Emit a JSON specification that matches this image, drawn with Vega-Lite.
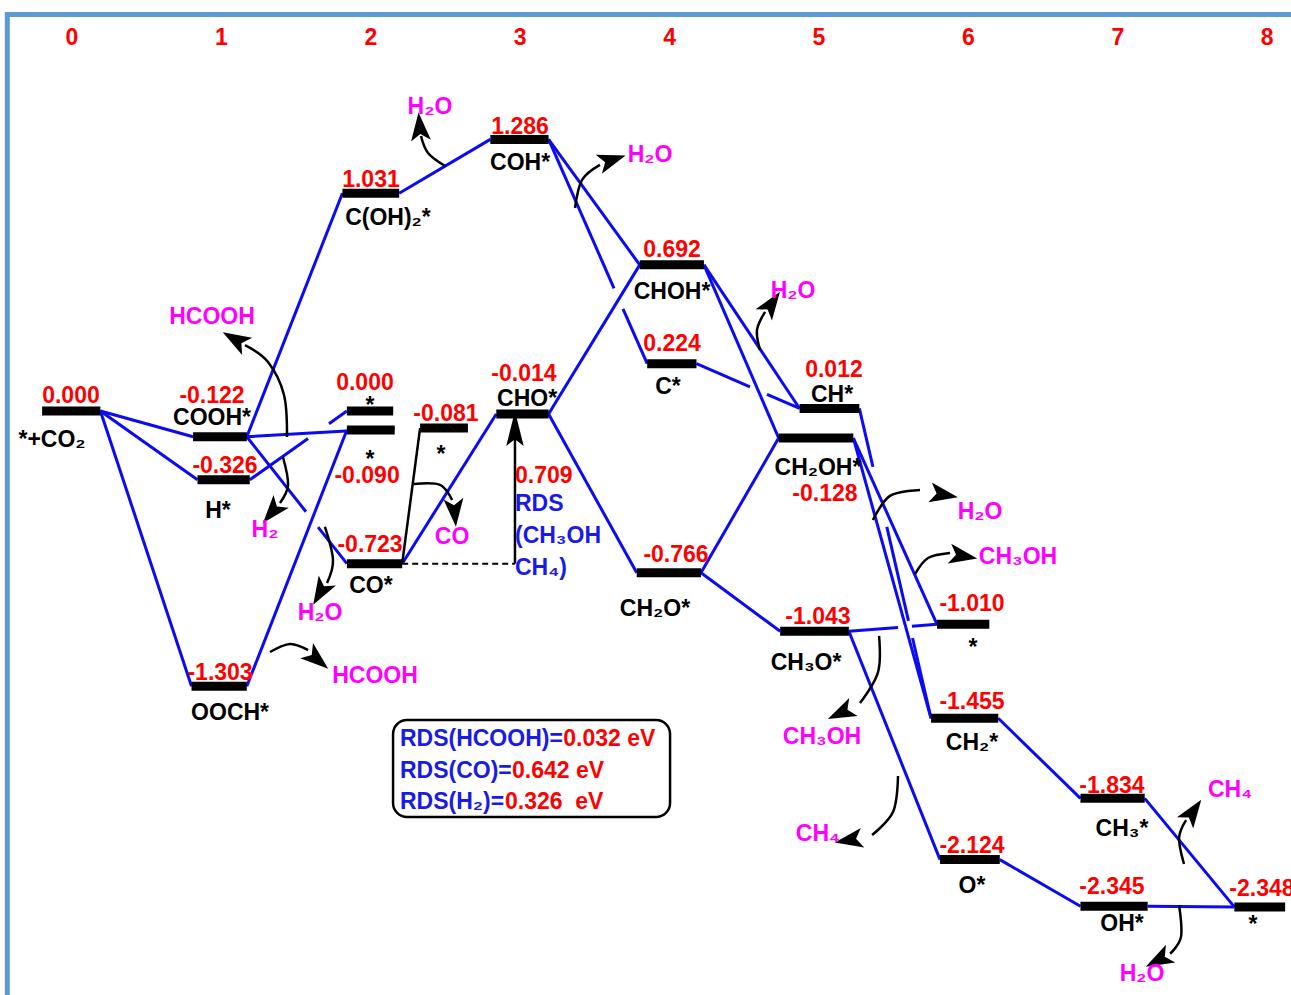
{
"$schema": "https://vega.github.io/schema/vega-lite/v6.json",
"width": 1291, "height": 995, "autosize": "none", "padding": 0,
"background": "white",
"config": {"view": {"stroke": null}},
"datasets": {
"frame": [{"x": -0.433, "x2": 9, "y": 1.877, "y2": -3}],
"box": [{"x": 2.149, "x2": 4.003, "y": -1.463, "y2": -1.922}],
"bars": [
{"name":"*+CO2","x":-0.20,"x2":0.19,"y":0.000},
{"name":"COOH*","x":0.81,"x2":1.17,"y":-0.122},
{"name":"H*","x":0.84,"x2":1.19,"y":-0.326},
{"name":"OOCH*","x":0.80,"x2":1.17,"y":-1.303},
{"name":"C(OH)2*","x":1.81,"x2":2.19,"y":1.031},
{"name":"* (2a)","x":1.84,"x2":2.15,"y":0.000},
{"name":"* (2b)","x":1.84,"x2":2.16,"y":-0.090},
{"name":"CO*","x":1.84,"x2":2.21,"y":-0.723},
{"name":"* (2.5)","x":2.33,"x2":2.65,"y":-0.081},
{"name":"COH*","x":2.80,"x2":3.19,"y":1.286},
{"name":"CHO*","x":2.84,"x2":3.19,"y":-0.014},
{"name":"CHOH*","x":3.80,"x2":4.23,"y":0.692},
{"name":"C*","x":3.85,"x2":4.18,"y":0.224},
{"name":"CH2O*","x":3.78,"x2":4.21,"y":-0.766},
{"name":"CH*","x":4.87,"x2":5.27,"y":0.012},
{"name":"CH2OH*","x":4.73,"x2":5.23,"y":-0.128},
{"name":"CH3O*","x":4.74,"x2":5.20,"y":-1.043},
{"name":"* (6)","x":5.79,"x2":6.14,"y":-1.010},
{"name":"CH2*","x":5.75,"x2":6.20,"y":-1.455},
{"name":"O*","x":5.81,"x2":6.21,"y":-2.124},
{"name":"CH3*","x":6.75,"x2":7.18,"y":-1.834},
{"name":"OH*","x":6.75,"x2":7.20,"y":-2.345},
{"name":"* (8)","x":7.78,"x2":8.12,"y":-2.348}
],
"blue": [
{"x":0.19,"y":0,"x2":0.81,"y2":-0.122},
{"x":0.19,"y":0,"x2":0.84,"y2":-0.326},
{"x":0.19,"y":0,"x2":0.80,"y2":-1.303},
{"x":1.17,"y":-0.122,"x2":1.81,"y2":1.031},
{"x":1.17,"y":-0.122,"x2":2.16,"y2":-0.082},
{"x":1.19,"y":-0.326,"x2":1.58,"y2":-0.130},
{"x":1.72,"y":-0.060,"x2":1.84,"y2":0},
{"x":1.17,"y":-0.122,"x2":1.566,"y2":-0.477},
{"x":1.647,"y":-0.550,"x2":1.84,"y2":-0.723},
{"x":1.17,"y":-1.303,"x2":1.84,"y2":-0.090},
{"x":2.19,"y":1.031,"x2":2.80,"y2":1.286},
{"x":2.21,"y":-0.723,"x2":2.84,"y2":-0.014},
{"x":3.19,"y":1.286,"x2":3.80,"y2":0.692},
{"x":3.19,"y":1.286,"x2":3.628,"y2":0.581},
{"x":3.688,"y":0.484,"x2":3.85,"y2":0.224},
{"x":3.19,"y":-0.014,"x2":3.80,"y2":0.692},
{"x":3.19,"y":-0.014,"x2":3.78,"y2":-0.766},
{"x":4.23,"y":0.692,"x2":4.87,"y2":0.012},
{"x":4.23,"y":0.692,"x2":4.73,"y2":-0.128},
{"x":4.18,"y":0.224,"x2":4.538,"y2":0.114},
{"x":4.652,"y":0.079,"x2":4.87,"y2":0.012},
{"x":4.21,"y":-0.766,"x2":4.73,"y2":-0.128},
{"x":4.21,"y":-0.766,"x2":4.74,"y2":-1.043},
{"x":5.27,"y":0.012,"x2":5.361,"y2":-0.265},
{"x":5.454,"y":-0.549,"x2":5.599,"y2":-0.994},
{"x":5.626,"y":-1.075,"x2":5.75,"y2":-1.455},
{"x":5.23,"y":-0.128,"x2":5.79,"y2":-1.010},
{"x":5.23,"y":-0.128,"x2":5.75,"y2":-1.455},
{"x":5.20,"y":-1.043,"x2":5.529,"y2":-1.025},
{"x":5.622,"y":-1.019,"x2":5.79,"y2":-1.010},
{"x":5.20,"y":-1.043,"x2":5.81,"y2":-2.124},
{"x":6.20,"y":-1.455,"x2":6.75,"y2":-1.834},
{"x":7.18,"y":-1.834,"x2":7.78,"y2":-2.348},
{"x":6.21,"y":-2.124,"x2":6.75,"y2":-2.345},
{"x":7.20,"y":-2.345,"x2":7.78,"y2":-2.348}
],
"black": [
{"x":2.21,"y":-0.723,"x2":2.33,"y2":-0.081},
{"x":2.965,"y":-0.723,"x2":2.965,"y2":-0.12}
],
"dashed": [{"x":2.21,"y":-0.723,"x2":2.965,"y2":-0.723}],
"curves": [
{"id":"a","i":0,"x":2.497,"y":1.160},{"id":"a","i":1,"x":2.383,"y":1.222},{"id":"a","i":2,"x":2.336,"y":1.302},
{"id":"b","i":0,"x":3.367,"y":0.961},{"id":"b","i":1,"x":3.414,"y":1.094},{"id":"b","i":2,"x":3.534,"y":1.165},
{"id":"c","i":0,"x":1.439,"y":-0.123},{"id":"c","i":1,"x":1.419,"y":0.076},{"id":"c","i":2,"x":1.312,"y":0.232},{"id":"c","i":3,"x":1.158,"y":0.312},
{"id":"d","i":0,"x":1.412,"y":-0.218},{"id":"d","i":1,"x":1.446,"y":-0.350},{"id":"d","i":2,"x":1.392,"y":-0.436},
{"id":"e","i":0,"x":1.693,"y":-0.549},{"id":"e","i":1,"x":1.747,"y":-0.706},{"id":"e","i":2,"x":1.707,"y":-0.814},
{"id":"f","i":0,"x":1.325,"y":-1.141},{"id":"f","i":1,"x":1.459,"y":-1.103},{"id":"f","i":2,"x":1.580,"y":-1.132},
{"id":"g","i":0,"x":2.289,"y":-0.346},{"id":"g","i":1,"x":2.463,"y":-0.350},{"id":"g","i":2,"x":2.544,"y":-0.421},
{"id":"h","i":0,"x":4.605,"y":0.289},{"id":"h","i":1,"x":4.585,"y":0.384},{"id":"h","i":2,"x":4.639,"y":0.469},
{"id":"i","i":0,"x":5.361,"y":-0.516},{"id":"i","i":1,"x":5.475,"y":-0.402},{"id":"i","i":2,"x":5.676,"y":-0.374},
{"id":"j","i":0,"x":5.643,"y":-0.772},{"id":"j","i":1,"x":5.730,"y":-0.696},{"id":"j","i":2,"x":5.877,"y":-0.672},
{"id":"k","i":0,"x":5.402,"y":-1.065},{"id":"k","i":1,"x":5.395,"y":-1.236},{"id":"k","i":2,"x":5.274,"y":-1.383},
{"id":"l","i":0,"x":5.529,"y":-1.728},{"id":"l","i":1,"x":5.495,"y":-1.899},{"id":"l","i":2,"x":5.355,"y":-2.008},
{"id":"m","i":0,"x":7.443,"y":-2.145},{"id":"m","i":1,"x":7.410,"y":-2.022},{"id":"m","i":2,"x":7.457,"y":-1.937},
{"id":"n","i":0,"x":7.410,"y":-2.339},{"id":"n","i":1,"x":7.423,"y":-2.490},{"id":"n","i":2,"x":7.350,"y":-2.570}
],
"heads": [
{"x":2.329,"y":1.335,"angle":-5},
{"x":3.600,"y":1.185,"angle":72},
{"x":1.105,"y":0.333,"angle":-60},
{"x":1.350,"y":-0.470,"angle":-140},
{"x":1.670,"y":-0.850,"angle":-150},
{"x":1.630,"y":-1.170,"angle":130},
{"x":2.560,"y":-0.470,"angle":175},
{"x":4.675,"y":0.500,"angle":35},
{"x":5.820,"y":-0.395,"angle":100},
{"x":5.950,"y":-0.685,"angle":100},
{"x":5.160,"y":-1.425,"angle":-115},
{"x":5.215,"y":-2.030,"angle":-100},
{"x":7.495,"y":-1.905,"angle":35},
{"x":7.285,"y":-2.595,"angle":-118}
],
"rdshead": [{"x":2.965,"y":-0.092}],
"ctext": [
{"t":"0","x":0,"y":1.766,"k":"r"},{"t":"1","x":1,"y":1.766,"k":"r"},{"t":"2","x":2,"y":1.766,"k":"r"},
{"t":"3","x":3,"y":1.766,"k":"r"},{"t":"4","x":4,"y":1.766,"k":"r"},{"t":"5","x":5,"y":1.766,"k":"r"},
{"t":"6","x":6,"y":1.766,"k":"r"},{"t":"7","x":7,"y":1.766,"k":"r"},{"t":"8","x":8,"y":1.766,"k":"r"},
{"t":"0.000","x":-0.007,"y":0.071,"k":"r"},
{"t":"-0.122","x":0.937,"y":0.071,"k":"r"},
{"t":"-0.326","x":1.024,"y":-0.260,"k":"r"},
{"t":"-1.303","x":0.991,"y":-1.241,"k":"r"},
{"t":"1.031","x":2.001,"y":1.094,"k":"r"},
{"t":"0.000","x":1.961,"y":0.133,"k":"r"},
{"t":"-0.090","x":1.975,"y":-0.308,"k":"r"},
{"t":"-0.723","x":1.995,"y":-0.634,"k":"r"},
{"t":"-0.081","x":2.503,"y":-0.014,"k":"r"},
{"t":"1.286","x":2.999,"y":1.345,"k":"r"},
{"t":"-0.014","x":3.025,"y":0.175,"k":"r"},
{"t":"0.692","x":4.016,"y":0.762,"k":"r"},
{"t":"0.224","x":4.016,"y":0.317,"k":"r"},
{"t":"-0.766","x":4.043,"y":-0.682,"k":"r"},
{"t":"0.012","x":5.100,"y":0.194,"k":"r"},
{"t":"-0.128","x":5.040,"y":-0.393,"k":"r"},
{"t":"-1.043","x":4.993,"y":-0.975,"k":"r"},
{"t":"-1.010","x":6.024,"y":-0.914,"k":"r"},
{"t":"-1.455","x":6.024,"y":-1.378,"k":"r"},
{"t":"-1.834","x":6.961,"y":-1.776,"k":"r"},
{"t":"-2.124","x":6.024,"y":-2.060,"k":"r"},
{"t":"-2.345","x":6.961,"y":-2.254,"k":"r"},
{"t":"-2.348","x":7.965,"y":-2.263,"k":"r"},
{"t":"*+CO₂","x":-0.134,"y":-0.137,"k":"b"},
{"t":"COOH*","x":0.937,"y":-0.033,"k":"b"},
{"t":"H*","x":0.977,"y":-0.473,"k":"b"},
{"t":"OOCH*","x":1.058,"y":-1.430,"k":"b"},
{"t":"C(OH)₂*","x":2.115,"y":0.914,"k":"b"},
{"t":"*","x":1.995,"y":0.024,"k":"b"},
{"t":"*","x":1.995,"y":-0.232,"k":"b"},
{"t":"CO*","x":2.001,"y":-0.829,"k":"b"},
{"t":"*","x":2.470,"y":-0.208,"k":"b"},
{"t":"COH*","x":2.999,"y":1.174,"k":"b"},
{"t":"CHO*","x":3.046,"y":0.057,"k":"b"},
{"t":"CHOH*","x":4.016,"y":0.563,"k":"b"},
{"t":"C*","x":3.989,"y":0.114,"k":"b"},
{"t":"CH₂O*","x":3.902,"y":-0.938,"k":"b"},
{"t":"CH*","x":5.087,"y":0.076,"k":"b"},
{"t":"CH₂OH*","x":4.993,"y":-0.270,"k":"b"},
{"t":"CH₃O*","x":4.913,"y":-1.193,"k":"b"},
{"t":"*","x":6.031,"y":-1.122,"k":"b"},
{"t":"CH₂*","x":6.024,"y":-1.572,"k":"b"},
{"t":"CH₃*","x":7.028,"y":-1.979,"k":"b"},
{"t":"O*","x":6.024,"y":-2.249,"k":"b"},
{"t":"OH*","x":7.028,"y":-2.429,"k":"b"},
{"t":"*","x":7.905,"y":-2.434,"k":"b"},
{"t":"H₂O","x":2.396,"y":1.439,"k":"m"},
{"t":"H₂O","x":3.869,"y":1.212,"k":"m"},
{"t":"HCOOH","x":0.937,"y":0.445,"k":"m"},
{"t":"H₂","x":1.292,"y":-0.563,"k":"m"},
{"t":"CO","x":2.544,"y":-0.597,"k":"m"},
{"t":"H₂O","x":1.660,"y":-0.956,"k":"m"},
{"t":"HCOOH","x":2.028,"y":-1.255,"k":"m"},
{"t":"H₂O","x":4.826,"y":0.568,"k":"m"},
{"t":"H₂O","x":6.078,"y":-0.478,"k":"m"},
{"t":"CH₃OH","x":6.332,"y":-0.691,"k":"m"},
{"t":"CH₃OH","x":5.020,"y":-1.544,"k":"m"},
{"t":"CH₄","x":4.993,"y":-2.003,"k":"m"},
{"t":"CH₄","x":7.751,"y":-1.795,"k":"m"},
{"t":"H₂O","x":7.162,"y":-2.665,"k":"m"}
],
"ltext": [
{"t":"0.709","x":2.965,"y":-0.308,"k":"r"},
{"t":"RDS","x":2.965,"y":-0.440,"k":"u"},
{"t":"(CH₃OH","x":2.965,"y":-0.592,"k":"u"},
{"t":"CH₄)","x":2.965,"y":-0.743,"k":"u"},
{"t":"RDS(HCOOH)=","x":2.195,"y":-1.553,"k":"u"},
{"t":"0.032 eV","x":3.288,"y":-1.553,"k":"r"},
{"t":"RDS(CO)=","x":2.195,"y":-1.705,"k":"u"},
{"t":"0.642 eV","x":2.945,"y":-1.705,"k":"r"},
{"t":"RDS(H₂)=","x":2.195,"y":-1.851,"k":"u"},
{"t":"0.326\u00a0 eV","x":2.898,"y":-1.851,"k":"r"}
]
},
"encoding": {
"x": {"field":"x","type":"quantitative","scale":{"domain":[-0.48193,8.1593],"nice":false,"zero":false},"axis":null},
"y": {"field":"y","type":"quantitative","scale":{"domain":[-2.7652,1.946],"nice":false,"zero":false},"axis":null}
},
"layer": [
{"data":{"name":"frame"},"mark":{"type":"rect","filled":false,"stroke":"#5B9BD5","strokeWidth":5},
 "encoding":{"x2":{"field":"x2"},"y2":{"field":"y2"}}},
{"data":{"name":"blue"},"mark":{"type":"rule","color":"#0A0AF5","strokeWidth":3},
 "encoding":{"x2":{"field":"x2"},"y2":{"field":"y2"}}},
{"data":{"name":"black"},"mark":{"type":"rule","color":"#000000","strokeWidth":2.5},
 "encoding":{"x2":{"field":"x2"},"y2":{"field":"y2"}}},
{"data":{"name":"dashed"},"mark":{"type":"rule","color":"#000000","strokeWidth":2,"strokeDash":[6,4]},
 "encoding":{"x2":{"field":"x2"},"y2":{"field":"y2"}}},
{"data":{"name":"bars"},"mark":{"type":"rule","color":"#000000","strokeWidth":9,"strokeCap":"butt"},
 "encoding":{"x2":{"field":"x2"}}},
{"data":{"name":"curves"},"mark":{"type":"line","color":"#000000","strokeWidth":2.5,"interpolate":"cardinal"},
 "encoding":{"detail":{"field":"id"},"order":{"field":"i","type":"quantitative"}}},
{"data":{"name":"heads"},"mark":{"type":"point","shape":"M0,-1L0.6,0.7L0,0.3L-0.6,0.7Z","filled":true,"color":"#000000","size":1100,"strokeWidth":0,"opacity":1},
 "encoding":{"angle":{"field":"angle","type":"quantitative","scale":null}}},
{"data":{"name":"rdshead"},"mark":{"type":"point","shape":"M0,-1L0.45,0.8L0,0.45L-0.45,0.8Z","filled":true,"color":"#000000","size":1500,"strokeWidth":0,"opacity":1}},
{"data":{"name":"box"},"mark":{"type":"rect","filled":false,"stroke":"#000000","strokeWidth":2.5,"cornerRadius":14},
 "encoding":{"x2":{"field":"x2"},"y2":{"field":"y2"}}},
{"data":{"name":"ctext"},"mark":{"type":"text","font":"Liberation Sans","fontWeight":"bold","fontSize":23,"align":"center","baseline":"middle"},
 "encoding":{"text":{"field":"t"},"color":{"field":"k","type":"nominal","scale":{"domain":["r","b","m","u"],"range":["#FF0000","#000000","#FF00FF","#1A1AE6"]},"legend":null}}},
{"data":{"name":"ltext"},"mark":{"type":"text","font":"Liberation Sans","fontWeight":"bold","fontSize":23,"align":"left","baseline":"middle"},
 "encoding":{"text":{"field":"t"},"color":{"field":"k","type":"nominal","scale":{"domain":["r","b","m","u"],"range":["#FF0000","#000000","#FF00FF","#1A1AE6"]},"legend":null}}}
]
}
